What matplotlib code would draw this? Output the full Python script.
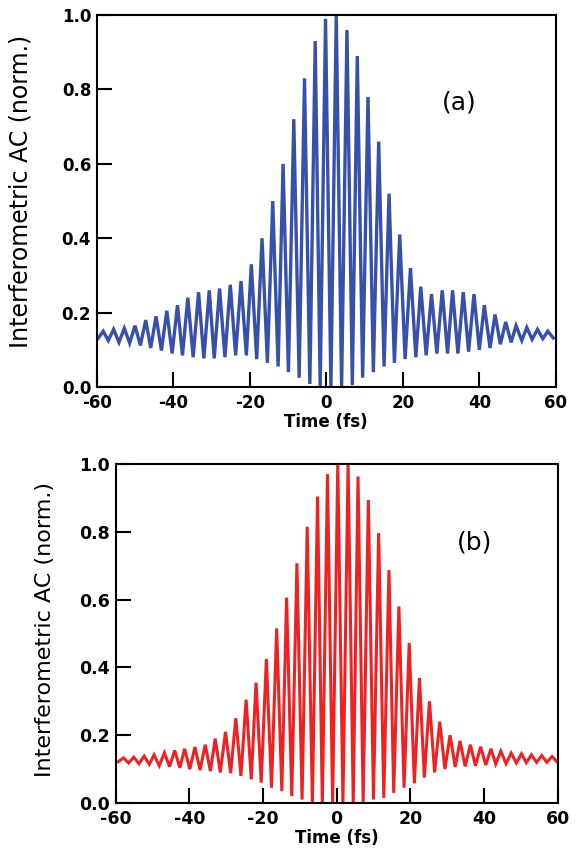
import matplotlib
matplotlib.use('Agg')
import matplotlib.pyplot as plt
import numpy as np

# fringe maxima / minima
# (a) blue trace
a_peak_t = [-58.3, -55.6, -52.8, -50.0, -47.2, -44.5, -41.7, -38.9, -36.2, -33.4, -30.6,
            -27.9, -25.1, -22.3, -19.6, -16.8, -14.0, -11.3, -8.5, -5.7, -2.9, -0.2,
            2.6, 5.4, 8.1, 10.9, 13.7, 16.4, 19.2, 22.0, 24.7, 27.5, 30.3,
            33.0, 35.8, 38.6, 41.3, 44.1, 46.9, 49.6, 52.4, 55.2, 57.9]
a_peak_v = [0.150, 0.155, 0.158, 0.165, 0.180, 0.190, 0.205, 0.220, 0.240, 0.255, 0.260,
            0.265, 0.275, 0.285, 0.330, 0.400, 0.500, 0.600, 0.720, 0.830, 0.930, 0.990,
            1.000, 0.960, 0.890, 0.780, 0.660, 0.520, 0.410, 0.320, 0.270, 0.250, 0.260,
            0.260, 0.255, 0.250, 0.220, 0.195, 0.175, 0.165, 0.160, 0.155, 0.150]
a_dip_t = [-59.7, -57.0, -54.2, -51.4, -48.6, -45.9, -43.1, -40.3, -37.6, -34.8, -32.0,
           -29.3, -26.5, -23.7, -20.9, -18.2, -15.4, -12.6, -9.9, -7.1, -4.3, -1.6,
           1.2, 4.0, 6.8, 9.5, 12.3, 15.1, 17.8, 20.6, 23.4, 26.1, 28.9,
           31.7, 34.4, 37.2, 40.0, 42.8, 45.5, 48.3, 51.1, 53.8, 56.6, 59.3]
a_dip_v = [0.130, 0.125, 0.120, 0.118, 0.112, 0.105, 0.098, 0.090, 0.085, 0.080, 0.077,
           0.077, 0.080, 0.085, 0.085, 0.075, 0.065, 0.055, 0.040, 0.025, 0.008, 0.000,
           0.000, 0.000, 0.005, 0.025, 0.040, 0.055, 0.065, 0.075, 0.080, 0.085, 0.090,
           0.090, 0.090, 0.095, 0.100, 0.105, 0.115, 0.120, 0.125, 0.128, 0.130, 0.132]

# (b) red trace
b_peak_t = [-57.9, -55.1, -52.3, -49.6, -46.8, -44.0, -41.3, -38.5, -35.7, -33.0, -30.2,
            -27.4, -24.6, -21.9, -19.1, -16.3, -13.6, -10.8, -8.0, -5.2, -2.5,
            0.3, 3.1, 5.8, 8.6, 11.4, 14.2, 16.9, 19.7, 22.5, 25.2, 28.0,
            30.8, 33.5, 36.3, 39.1, 41.9, 44.6, 47.4, 50.2, 52.9, 55.7, 58.5]
b_peak_v = [0.133, 0.135, 0.138, 0.142, 0.148, 0.155, 0.160, 0.165, 0.172, 0.190, 0.210,
            0.250, 0.305, 0.355, 0.425, 0.515, 0.606, 0.707, 0.815, 0.904, 0.970,
            1.000, 1.000, 0.963, 0.894, 0.796, 0.687, 0.580, 0.472, 0.369, 0.300, 0.240,
            0.200, 0.183, 0.172, 0.166, 0.160, 0.153, 0.147, 0.145, 0.142, 0.140, 0.137]
b_dip_t = [-59.3, -56.5, -53.7, -50.9, -48.2, -45.4, -42.6, -39.9, -37.1, -34.3, -31.6,
           -28.8, -26.0, -23.2, -20.5, -17.7, -14.9, -12.2, -9.4, -6.6, -3.9, -1.1,
           1.7, 4.5, 7.2, 10.0, 12.8, 15.5, 18.3, 21.1, 23.8, 26.6, 29.4,
           32.2, 34.9, 37.7, 40.5, 43.2, 46.0, 48.8, 51.5, 54.3, 57.1, 59.9]
b_dip_v = [0.122, 0.118, 0.116, 0.114, 0.110, 0.107, 0.104, 0.100, 0.097, 0.094, 0.090,
           0.088, 0.080, 0.070, 0.060, 0.045, 0.035, 0.020, 0.010, 0.000, 0.000, 0.000,
           0.000, 0.000, 0.000, 0.010, 0.015, 0.030, 0.045, 0.058, 0.075, 0.090, 0.100,
           0.106, 0.108, 0.110, 0.112, 0.115, 0.116, 0.118, 0.119, 0.120, 0.120, 0.121]

xticks = [-60, -40, -20, 0, 20, 40, 60]
yticks = [0.0, 0.2, 0.4, 0.6, 0.8, 1.0]


def trace(dip_t, dip_v, peak_t, peak_v):
    # alternate dip, peak, dip, ... so the fringes are drawn in order
    t = np.empty(len(dip_t) + len(peak_t))
    v = np.empty_like(t)
    t[0::2], t[1::2] = dip_t, peak_t
    v[0::2], v[1::2] = dip_v, peak_v
    return t, v


def style(ax, fs):
    ax.set_xlim(-60, 60)
    ax.set_ylim(0, 1)
    ax.set_xticks(xticks)
    ax.set_yticks(yticks)
    ax.set_xticklabels([str(x) for x in xticks])
    ax.set_yticklabels(['%.1f' % y for y in yticks])
    ax.tick_params(direction='in', length=11, width=1.5, labelsize=fs)
    ax.tick_params(axis='y', pad=4)
    ax.tick_params(axis='x', pad=5)
    for lab in ax.get_xticklabels() + ax.get_yticklabels():
        lab.set_fontweight('bold')
    for s in ax.spines.values():
        s.set_linewidth(1.5)


plt.rcParams['font.family'] = 'DejaVu Sans'
fig = plt.figure(figsize=(5.76, 8.57), dpi=100)

ax1 = fig.add_axes([0.168, 0.5484, 0.797, 0.434])
t, v = trace(a_dip_t, a_dip_v, a_peak_t, a_peak_v)
ax1.plot(t, v, color='#3850aa', lw=2.4, solid_joinstyle='miter')
style(ax1, 12)
ax1.set_xlabel('Time (fs)', fontsize=12, fontweight='bold', labelpad=1)
ax1.set_ylabel('Interferometric AC (norm.)', fontsize=17)
ax1.yaxis.set_label_coords(-0.139, 0.527)
ax1.text(34.7, 0.766, '(a)', fontsize=18, ha='center', va='center')

ax2 = fig.add_axes([0.201, 0.063, 0.767, 0.3956])
t, v = trace(b_dip_t, b_dip_v, b_peak_t, b_peak_v)
ax2.plot(t, v, color='#ee2222', lw=2.2, solid_joinstyle='miter')
style(ax2, 12.5)
ax2.set_xlabel('Time (fs)', fontsize=12, fontweight='bold', labelpad=1)
ax2.set_ylabel('Interferometric AC (norm.)', fontsize=16)
ax2.yaxis.set_label_coords(-0.138, 0.513)
ax2.text(37.5, 0.767, '(b)', fontsize=18, ha='center', va='center')

fig.savefig('out.png', dpi=100)
